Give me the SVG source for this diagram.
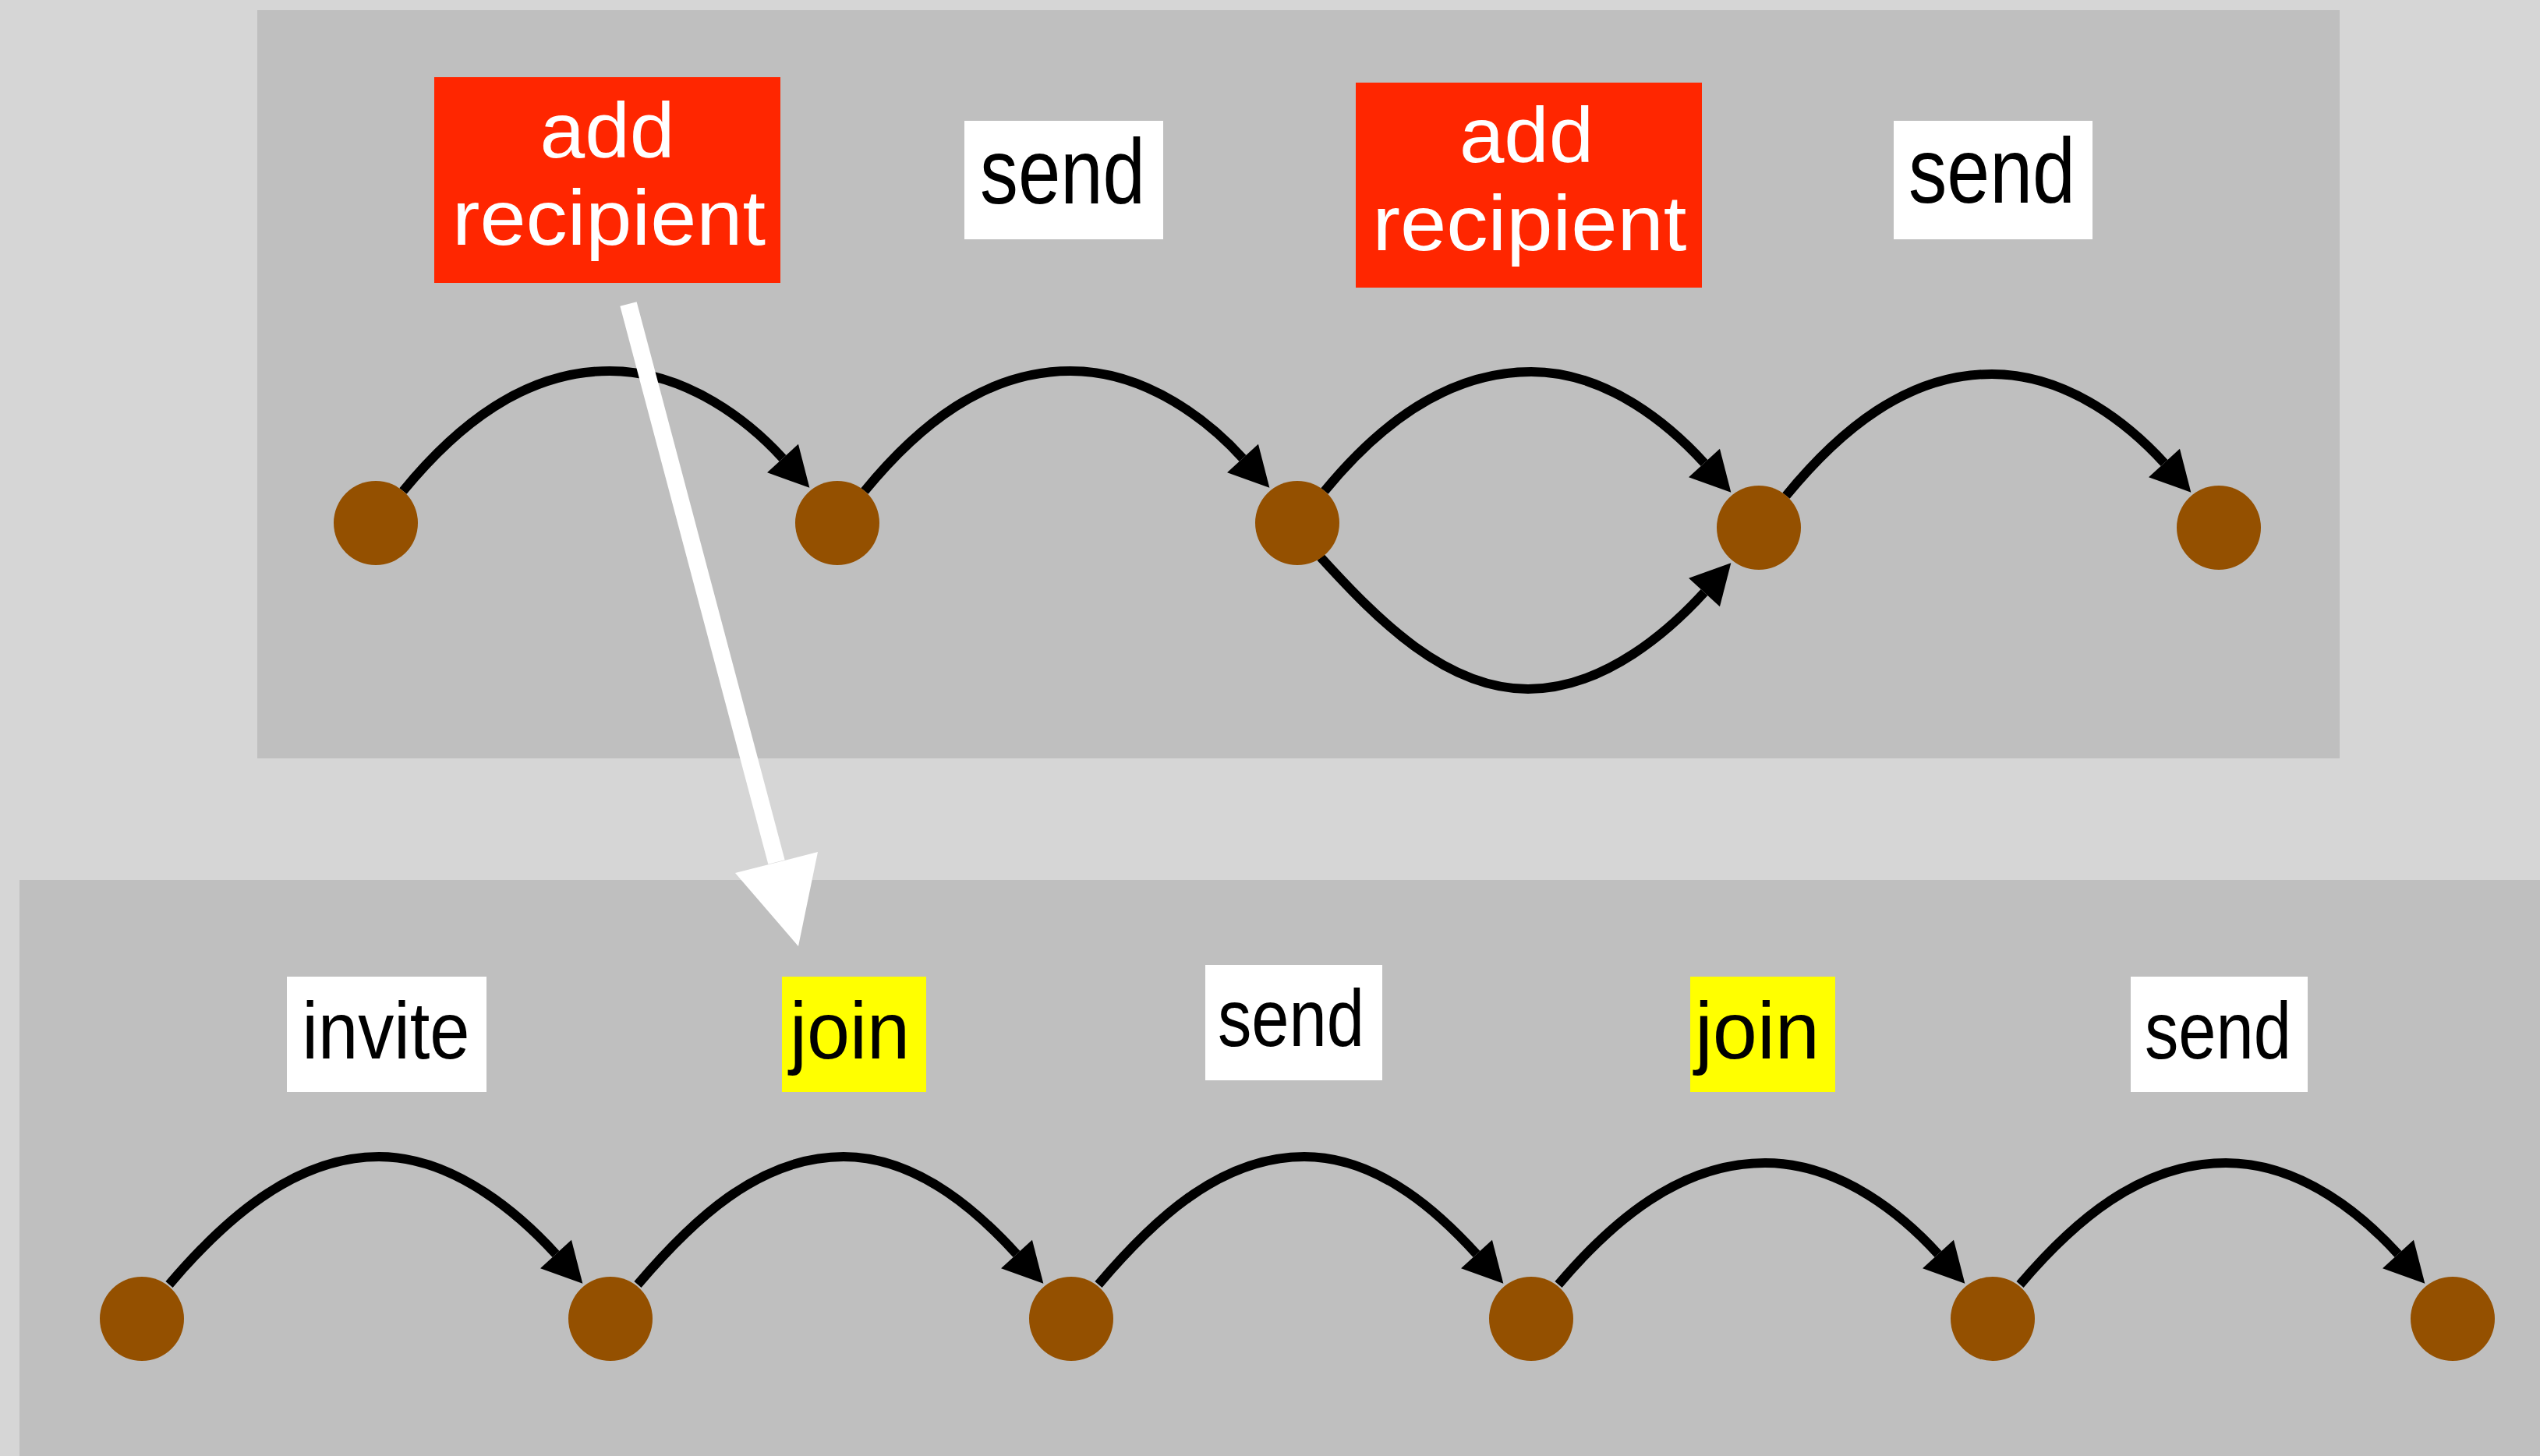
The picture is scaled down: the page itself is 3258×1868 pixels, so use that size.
<svg xmlns="http://www.w3.org/2000/svg" width="3258" height="1868" viewBox="0 0 3258 1868">
<style>
.panel{fill:#bfbfbf}
.node{fill:#945000}
.edge{fill:none;stroke:#000;stroke-width:12}
.lbl{font-family:"Liberation Sans",Arial,sans-serif;text-anchor:middle}
.big{font-size:118px}
.mid{font-size:100px}
.small{font-size:104px}
.red{fill:#ff2600}
.white{fill:#fff}
.yellow{fill:#ffff00}
.tw{fill:#fff}
.tb{fill:#000}
</style>
<defs>
<marker id="ah" markerUnits="userSpaceOnUse" markerWidth="54" markerHeight="58" viewBox="-1 -29 54 58" refX="0" refY="0" orient="auto" overflow="visible">
<polygon points="0,-27 51,0 0,27" fill="#000"/>
</marker>
</defs>
<rect x="0" y="0" width="3258" height="1868" fill="#d6d6d6"/>
<rect class="panel" x="330" y="13" width="2671" height="960"/>
<rect class="panel" x="25" y="1129" width="3233" height="739"/>

<g id="connectors">
<path class="edge" marker-end="url(#ah)" d="M 517,630 C 585,547 672,476 782,476 C 882,476 963,543 1004,588"/>
<path class="edge" marker-end="url(#ah)" d="M 1109,630 C 1177,547 1263,476 1373,476 C 1473,476 1553,543 1594,588"/>
<path class="edge" marker-end="url(#ah)" d="M 1699,630 C 1767,547 1854,477 1964,477 C 2064,477 2145,549 2186,594"/>
<path class="edge" marker-end="url(#ah)" d="M 1694,715 C 1767,795 1854,884 1960,884 C 2060,884 2145,805 2186,760"/>
<path class="edge" marker-end="url(#ah)" d="M 2291,636 C 2359,553 2445,480 2555,480 C 2655,480 2735,549 2776,594"/>
<path class="edge" marker-end="url(#ah)" d="M 217,1648 C 285,1568 376,1484 486,1484 C 586,1484 672,1564 713,1609"/>
<path class="edge" marker-end="url(#ah)" d="M 818,1648 C 886,1568 972,1484 1082,1484 C 1182,1484 1263,1564 1304,1609"/>
<path class="edge" marker-end="url(#ah)" d="M 1409,1648 C 1477,1568 1563,1484 1673,1484 C 1773,1484 1853,1564 1894,1609"/>
<path class="edge" marker-end="url(#ah)" d="M 1999,1648 C 2067,1568 2154,1492 2264,1492 C 2364,1492 2445,1564 2486,1609"/>
<path class="edge" marker-end="url(#ah)" d="M 2591,1648 C 2659,1568 2745,1492 2855,1492 C 2955,1492 3035,1564 3076,1609"/>
<line x1="806" y1="390" x2="996" y2="1106" stroke="#fff" stroke-width="22"/>
<polygon points="943,1120 1024,1214 1049,1093" fill="#fff"/>
</g>

<g id="t1"><circle class="node" cx="482" cy="671" r="54"/></g>
<g id="t2"><circle class="node" cx="1074" cy="671" r="54"/></g>
<g id="t3"><circle class="node" cx="1664" cy="671" r="54"/></g>
<g id="t4"><circle class="node" cx="2256" cy="677" r="54"/></g>
<g id="t5"><circle class="node" cx="2846" cy="677" r="54"/></g>

<g id="b1"><circle class="node" cx="182" cy="1692" r="54"/></g>
<g id="b2"><circle class="node" cx="783" cy="1692" r="54"/></g>
<g id="b3"><circle class="node" cx="1374" cy="1692" r="54"/></g>
<g id="b4"><circle class="node" cx="1964" cy="1692" r="54"/></g>
<g id="b5"><circle class="node" cx="2556" cy="1692" r="54"/></g>
<g id="b6"><circle class="node" cx="3146" cy="1692" r="54"/></g>

<g id="lbl-add1">
<rect class="red" x="557" y="99" width="444" height="264"/>
<text class="lbl mid tw" x="779" y="202" textLength="173" lengthAdjust="spacingAndGlyphs">add</text>
<text class="lbl mid tw" x="781" y="314" textLength="402" lengthAdjust="spacingAndGlyphs">recipient</text>
</g>
<g id="lbl-send1">
<rect class="white" x="1237" y="155" width="255" height="152"/>
<text class="lbl big tb" x="1363" y="261" textLength="212" lengthAdjust="spacingAndGlyphs">send</text>
</g>
<g id="lbl-add2">
<rect class="red" x="1739" y="106" width="444" height="263"/>
<text class="lbl mid tw" x="1958" y="208" textLength="172" lengthAdjust="spacingAndGlyphs">add</text>
<text class="lbl mid tw" x="1962" y="321" textLength="403" lengthAdjust="spacingAndGlyphs">recipient</text>
</g>
<g id="lbl-send2">
<rect class="white" x="2429" y="155" width="255" height="152"/>
<text class="lbl big tb" x="2555" y="260" textLength="214" lengthAdjust="spacingAndGlyphs">send</text>
</g>

<g id="lbl-invite">
<rect class="white" x="368" y="1253" width="256" height="148"/>
<text class="lbl small tb" x="495" y="1358" textLength="215" lengthAdjust="spacingAndGlyphs">invite</text>
</g>
<g id="lbl-join1">
<rect class="yellow" x="1003" y="1253" width="185" height="148"/>
<text class="lbl small tb" x="1090" y="1358" textLength="154" lengthAdjust="spacingAndGlyphs">join</text>
</g>
<g id="lbl-send3">
<rect class="white" x="1546" y="1238" width="227" height="148"/>
<text class="lbl small tb" x="1656" y="1342" textLength="188" lengthAdjust="spacingAndGlyphs">send</text>
</g>
<g id="lbl-join2">
<rect class="yellow" x="2168" y="1253" width="186" height="148"/>
<text class="lbl small tb" x="2254" y="1358" textLength="160" lengthAdjust="spacingAndGlyphs">join</text>
</g>
<g id="lbl-send4">
<rect class="white" x="2733" y="1253" width="227" height="148"/>
<text class="lbl small tb" x="2845" y="1358" textLength="188" lengthAdjust="spacingAndGlyphs">send</text>
</g>
</svg>
